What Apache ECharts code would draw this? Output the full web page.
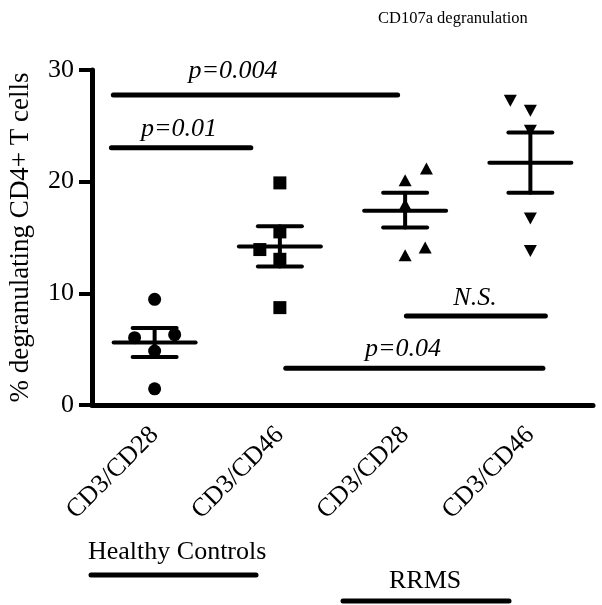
<!DOCTYPE html>
<html>
<head>
<meta charset="utf-8">
<script src="https://cdn.jsdelivr.net/npm/echarts@6/dist/echarts.min.js"></script>
<style>
    html, body { margin: 0; padding: 0; background: #fff; }
    #chart { width: 602px; height: 605px; }
</style>
</head>
<body>
<div id="chart"></div>
<script>
var FONT = "'Liberation Serif', 'Times New Roman', serif";

// categories shown on the x axis
var categories = ['CD3/CD28', 'CD3/CD46', 'CD3/CD28', 'CD3/CD46'];

// individual points: [category position (with jitter), % degranulating]
var hcCd28 = [[0, 9.46], [-0.16, 6.03], [0.16, 6.30], [0, 4.83], [0, 1.45]];
var hcCd46 = [[1, 19.89], [1, 15.5], [0.84, 13.92], [1, 13.05], [1, 8.72]];
var msCd28 = [[2.17, 21.18], [2, 20.13], [2, 17.96], [2.16, 14.1], [2, 13.41]];
var msCd46 = [[2.84, 27.25], [3, 26.35], [3, 24.56], [3, 16.7], [3, 13.8]];

// mean and SEM limits per group
var means = [5.6, 14.2, 17.4, 21.7];
var semLow = [4.3, 12.4, 15.9, 19.0];
var semHigh = [6.9, 16.0, 19.0, 24.4];

// significance bars
var sigText = ['p=0.004', 'p=0.01', 'N.S.', 'p=0.04'];
var sigStart = [-0.33, -0.345, 2.01, 1.047];
var sigEnd = [1.94, 0.768, 3.12, 3.10];
var sigY = [27.76, 23.03, 7.96, 3.3];
var sigTextX = [0.626, 0.195, 2.558, 1.983];
var sigTextY = [29.9, 24.7, 9.55, 4.98];

var yTicks = [0, 10, 20, 30];

window.onload = function () {
    initChart();
};

function initChart() {
    var chart = echarts.init(document.getElementById('chart'), null, {renderer: 'canvas'});
    chart.setOption(genOption());
}

function genOption() {
    var meanData = [];
    for (var i = 0; i < means.length; i++) {
        meanData.push([i, means[i], semLow[i], semHigh[i]]);
    }

    var series = [
        pointSeries('HC CD3/CD28', hcCd28, 'circle', 13, 0),
        pointSeries('HC CD3/CD46', hcCd46, 'rect', 13, 0),
        pointSeries('RRMS CD3/CD28', msCd28, 'triangle', [13, 12], 0),
        pointSeries('RRMS CD3/CD46', msCd46, 'triangle', [13, 12], 180),
        {
            type: 'custom',
            name: 'mean',
            xAxisIndex: 1,
            data: meanData,
            z: 3,
            renderItem: function (params, api) {
                var c = api.coord([api.value(0), api.value(1)]);
                var lo = api.coord([api.value(0), api.value(2)]);
                var hi = api.coord([api.value(0), api.value(3)]);
                var style = {stroke: '#000', lineWidth: 4, lineCap: 'round'};
                return {
                    type: 'group',
                    children: [
                        {type: 'line', shape: {x1: c[0] - 41, y1: c[1], x2: c[0] + 41, y2: c[1]}, style: style},
                        {type: 'line', shape: {x1: c[0] - 22, y1: hi[1], x2: c[0] + 22, y2: hi[1]}, style: style},
                        {type: 'line', shape: {x1: c[0] - 22, y1: lo[1], x2: c[0] + 22, y2: lo[1]}, style: style},
                        {type: 'line', shape: {x1: c[0], y1: lo[1], x2: c[0], y2: hi[1]}, style: style}
                    ]
                };
            }
        }
    ];

    var textData = [];
    for (var k = 0; k < sigText.length; k++) {
        series.push({
            type: 'line',
            xAxisIndex: 1,
            data: [[sigStart[k], sigY[k]], [sigEnd[k], sigY[k]]],
            symbol: 'none',
            silent: true,
            lineStyle: {color: '#000', width: 5, cap: 'round'}
        });
        textData.push([sigTextX[k], sigTextY[k], sigText[k]]);
    }
    series.push({
        type: 'custom',
        name: 'sigText',
        xAxisIndex: 1,
        data: textData,
        z: 5,
        clip: false,
        renderItem: function (params, api) {
            var p = api.coord([api.value(0), api.value(1)]);
            return {
                type: 'text',
                x: p[0],
                y: p[1],
                style: {
                    text: sigText[params.dataIndex],
                    fill: '#000',
                    fontFamily: FONT,
                    fontStyle: 'italic',
                    fontSize: 26,
                    align: 'center',
                    verticalAlign: 'middle'
                }
            };
        }
    });

    return {
        backgroundColor: '#fff',
        animation: false,
        title: {
            text: 'CD107a degranulation',
            left: 373,
            top: 5,
            textStyle: {fontFamily: FONT, fontSize: 16.5, fontWeight: 'normal', color: '#000'}
        },
        grid: {left: 92, right: 9, top: 70, bottom: 200, outerBoundsMode: 'none'},
        xAxis: [{
            type: 'category',
            data: categories,
            boundaryGap: true,
            axisLine: {lineStyle: {color: '#000', width: 5}},
            axisTick: {alignWithLabel: true, length: 11, lineStyle: {color: '#000', width: 4}},
            axisLabel: {
                rotate: 45,
                margin: 26,
                interval: 0,
                color: '#000',
                fontFamily: FONT,
                fontSize: 26
            },
            splitLine: {show: false}
        }, {
            type: 'value',
            min: -0.5,
            max: 3.5,
            show: false
        }],
        yAxis: {
            type: 'value',
            min: yTicks[0],
            max: yTicks[yTicks.length - 1],
            interval: 10,
            name: '% degranulating CD4+ T cells',
            nameLocation: 'middle',
            nameGap: 58,
            nameTextStyle: {fontFamily: FONT, fontSize: 27, color: '#000'},
            axisLine: {show: true, onZero: false, lineStyle: {color: '#000', width: 5}},
            axisTick: {show: true, length: 13, lineStyle: {color: '#000', width: 4}},
            axisLabel: {margin: 18, color: '#000', fontFamily: FONT, fontSize: 26},
            splitLine: {show: false}
        },
        graphic: [
            {type: 'text', left: 88, top: 539, style: {text: 'Healthy Controls', fontFamily: FONT, fontSize: 26, fill: '#000'}},
            {type: 'line', shape: {x1: 91, y1: 575, x2: 256, y2: 575}, style: {stroke: '#000', lineWidth: 5, lineCap: 'round'}},
            {type: 'text', left: 389, top: 568, style: {text: 'RRMS', fontFamily: FONT, fontSize: 26, fill: '#000'}},
            {type: 'line', shape: {x1: 343, y1: 601, x2: 509, y2: 601}, style: {stroke: '#000', lineWidth: 5, lineCap: 'round'}}
        ],
        series: series
    };
}

function pointSeries(name, data, symbol, size, rotate) {
    return {
        type: 'scatter',
        name: name,
        xAxisIndex: 1,
        data: data,
        symbol: symbol,
        symbolSize: size,
        symbolRotate: rotate,
        clip: false,
        itemStyle: {color: '#000', opacity: 1},
        z: 2
    };
}
</script>
</body>
</html>
